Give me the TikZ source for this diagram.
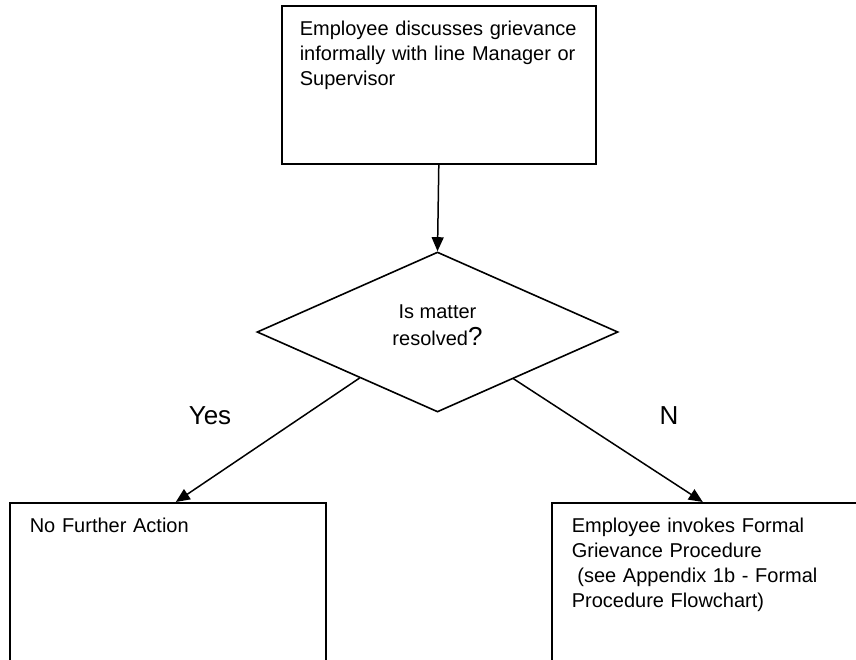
\documentclass[tikz,border=0pt]{standalone}
\usepackage{fontspec}
\setmainfont{Liberation Sans}
\usetikzlibrary{shapes.geometric, arrows.meta, calc, positioning}

\begin{document}
\begin{tikzpicture}[x=1pt, y=-1pt]

	\tikzset{stepbox/.style={
			draw, line width=1.6pt,
			anchor=north west,
			align=left,
			text width=#1,
			inner xsep=20pt, inner ysep=0pt,
			text height=30pt,
			font=\fontsize{20}{25}\selectfont
		},
		stepbox/.default=276pt,
		decision/.style={
			draw, diamond, line width=1.6pt,
			aspect=2.25, inner sep=0pt,
			minimum width=361pt, minimum height=160pt,
			align=center, text depth=14pt,
			font=\fontsize{20}{27}\selectfont
		},
		flow/.style={line width=1.5pt, -{Triangle[length=14pt, width=12pt]}},
		answer/.style={anchor=base, font=\fontsize{26}{26}\selectfont}
	}

	\useasboundingbox (0,0) rectangle (856,659);
	\clip (0,0) rectangle (856,659);

	\node[stepbox=278pt, inner xsep=18pt, text depth=128pt] (informal) at (281,5)
		{Employee discusses grievance\\informally with line Manager or\\Supervisor};
	\node[decision] (resolved) at (437.5,332)
		{Is matter\\resolved{\fontsize{26}{26}\selectfont ?}};
	\node[stepbox, text depth=170pt] (noaction) at (9,502) {No Further Action};
	\node[stepbox, text depth=170pt] (formal) at (551,502)
		{Employee invokes Formal\\Grievance Procedure\\\hspace*{0.278em}(see Appendix 1b - Formal\\Procedure Flowchart)};

	\node[answer] (yes) at (210,424) {Yes};
	\node[answer] (no) at (669,424) {N};

	\draw[flow] (informal.south) -- (resolved.north);
	\draw[flow] ($(resolved.west)!0.57!(resolved.south)$) -- ([xshift=8pt]noaction.north);
	\draw[flow] ($(resolved.east)!0.58!(resolved.south)$) -- ([xshift=-7pt]formal.north);

\end{tikzpicture}
\end{document}
